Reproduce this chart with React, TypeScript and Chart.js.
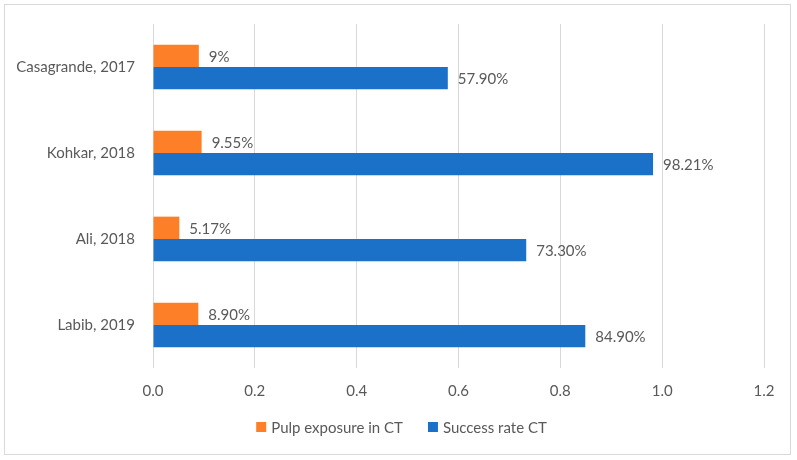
import React, { useEffect, useRef } from 'react';
import { Chart, registerables } from 'chart.js';

Chart.register(...registerables);

// Studies, top to bottom
const studies = ['Casagrande, 2017', 'Kohkar, 2018', 'Ali, 2018', 'Labib, 2019'];

// Series values (fractions) and their printed labels
const seriesNames = ['Pulp exposure in CT', 'Success rate CT'];
const seriesColors = ['#FD7F27', '#1B71C8'];
const pulpExposure = [0.09, 0.0955, 0.0517, 0.089];
const pulpExposureLabels = ['9%', '9.55%', '5.17%', '8.90%'];
const successRate = [0.579, 0.9821, 0.733, 0.849];
const successRateLabels = ['57.90%', '98.21%', '73.30%', '84.90%'];

const FONT = 'Lato, "Open Sans", sans-serif';
const GREY = '#595959';

// value text right of every bar, plus an Excel-like legend under the axis
const decorations = {
  id: 'decorations',
  afterDatasetsDraw(chart: Chart) {
    const ctx = chart.ctx;
    const texts = [pulpExposureLabels, successRateLabels];
    ctx.save();
    ctx.font = `15px ${FONT}`;
    ctx.fillStyle = GREY;
    ctx.textBaseline = 'middle';
    ctx.textAlign = 'left';
    chart.data.datasets.forEach((_, di) => {
      chart.getDatasetMeta(di).data.forEach((bar: any, i: number) => {
        ctx.fillText(texts[di][i], bar.x + 10, bar.y + 1);
      });
    });
    ctx.restore();
  },
  afterDraw(chart: Chart) {
    const ctx = chart.ctx;
    ctx.save();
    ctx.font = `15px ${FONT}`;
    ctx.textBaseline = 'middle';
    ctx.textAlign = 'left';
    const box = 10;
    const gap = 5;
    const itemGap = 25;
    const widths = seriesNames.map((n) => box + gap + ctx.measureText(n).width);
    const total = widths.reduce((a, b) => a + b, 0) + itemGap * (seriesNames.length - 1);
    let x = chart.width / 2 + 4 - total / 2;
    const y = chart.chartArea.bottom + 59;
    seriesNames.forEach((name, i) => {
      ctx.fillStyle = seriesColors[i];
      ctx.fillRect(x, y - box / 2, box, box);
      ctx.fillStyle = GREY;
      ctx.fillText(name, x + box + gap, y + 1);
      x += widths[i] + itemGap;
    });
    ctx.restore();
  },
};

const BarChart: React.FC = () => {
  const canvasRef = useRef<HTMLCanvasElement>(null);
  const chartRef = useRef<Chart | null>(null);

  useEffect(() => {
    const ctx = canvasRef.current?.getContext('2d');
    if (!ctx) return;
    if (chartRef.current) chartRef.current.destroy();

    chartRef.current = new Chart(ctx, {
      type: 'bar',
      data: {
        labels: studies,
        datasets: [
          {
            label: seriesNames[0],
            data: pulpExposure,
            backgroundColor: seriesColors[0],
            barPercentage: 1,
            categoryPercentage: 0.52,
          },
          {
            label: seriesNames[1],
            data: successRate,
            backgroundColor: seriesColors[1],
            barPercentage: 1,
            categoryPercentage: 0.52,
          },
        ],
      },
      options: {
        indexAxis: 'y',
        animation: false,
        responsive: false,
        layout: { padding: { top: 19, right: 26, bottom: 47, left: 0 } },
        plugins: {
          legend: { display: false },
          tooltip: { enabled: false },
        },
        scales: {
          x: {
            min: 0,
            max: 1.2,
            ticks: {
              stepSize: 0.2,
              color: GREY,
              font: { family: FONT, size: 15 },
              padding: 14,
              callback: (v: string | number) => Number(v).toFixed(1),
            },
            grid: { color: '#d9d9d9', drawTicks: false },
            border: { display: false },
            afterFit: (scale: any) => {
              scale.height = 40;
            },
          },
          y: {
            ticks: {
              color: GREY,
              font: { family: FONT, size: 15 },
              padding: 10,
            },
            grid: { display: false },
            border: { display: false },
            afterFit: (scale: any) => {
              scale.width = 148;
            },
          },
        },
      },
      plugins: [decorations],
    });

    return () => {
      if (chartRef.current) {
        chartRef.current.destroy();
        chartRef.current = null;
      }
    };
  }, []);

  return <canvas ref={canvasRef} width={785} height={450} />;
};

export default function App() {
  return (
    <div style={{ position: 'absolute', left: 0, top: 0, width: 797, height: 460, background: '#fff' }}>
      <div
        style={{
          position: 'absolute',
          left: 4,
          top: 4,
          width: 787,
          height: 451,
          border: '1px solid #d9d9d9',
          boxSizing: 'border-box',
        }}
      >
        <BarChart />
      </div>
    </div>
  );
}
